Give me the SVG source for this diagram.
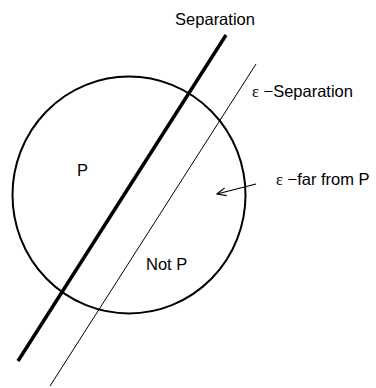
<svg xmlns="http://www.w3.org/2000/svg" width="376" height="388" viewBox="0 0 376 388">
<style>
text{font-family:"Liberation Sans",Arial,sans-serif;font-size:16.5px;fill:#000}
.eps{font-family:"Liberation Serif","Times New Roman",serif}
</style>
<defs>
<marker id="arr" viewBox="0 0 10 10" refX="9" refY="5" markerWidth="10" markerHeight="10" markerUnits="userSpaceOnUse" orient="auto">
<path d="M0,1 L9,5 L0,9" fill="none" stroke="#000" stroke-width="1.2"/>
</marker>
</defs>
<rect width="376" height="388" fill="#fff"/>
<g id="circle"><ellipse cx="129" cy="195" rx="116.5" ry="118.5" fill="none" stroke="#000" stroke-width="2"/></g>
<g id="connectors">
<line x1="226" y1="35" x2="18" y2="361" stroke="#000" stroke-width="3.5"/>
<line x1="256" y1="64" x2="50" y2="386" stroke="#000" stroke-width="1"/>
<line x1="256" y1="184" x2="217" y2="194" stroke="#000" stroke-width="1.2" marker-end="url(#arr)"/>
</g>
<g id="labels">
<text x="215" y="25" text-anchor="middle">Separation</text>
<text x="252" y="97"><tspan class="eps">ε</tspan> −Separation</text>
<text x="276" y="185"><tspan class="eps">ε</tspan> −far from P</text>
<text x="77" y="176">P</text>
<text x="146" y="270">Not P</text>
</g>
</svg>
